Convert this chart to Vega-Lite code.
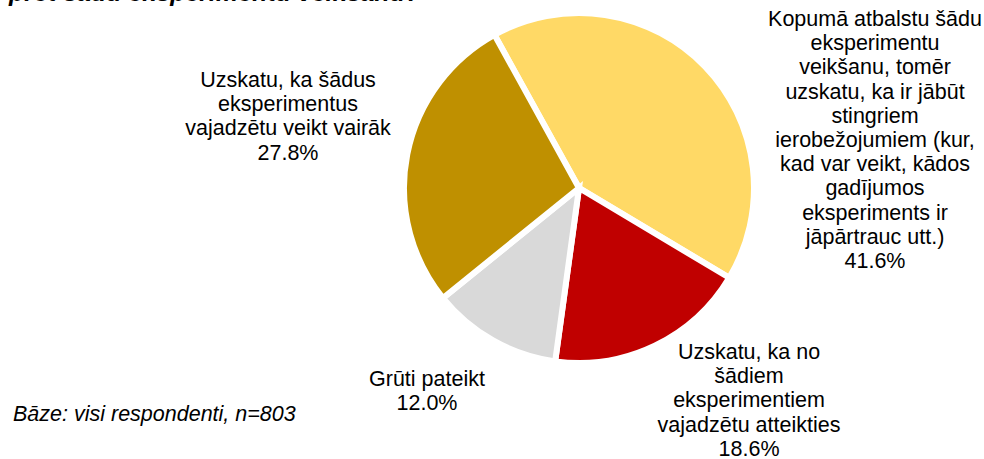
{
  "$schema": "https://vega.github.io/schema/vega-lite/v6.json",
  "padding": {"left": 9, "top": -19, "right": 1, "bottom": -3},
  "config": {"view": {"stroke": null}, "font": "Liberation Sans"},
  "title": {
    "text": "pret šādu eksperimentu veikšanu?",
    "anchor": "start",
    "orient": "top",
    "offset": -6,
    "dx": -4,
    "fontSize": 25,
    "fontStyle": "italic",
    "fontWeight": "bold",
    "font": "Liberation Sans",
    "color": "#000000"
  },
  "vconcat": [
    {
      "width": 810,
      "height": 376,
      "title": {
        "text": "Bāze: visi respondenti, n=803",
        "orient": "bottom",
        "anchor": "start",
        "baseline": "top",
        "offset": -56,
        "dx": -161,
        "fontSize": 21.5,
        "fontStyle": "italic",
        "fontWeight": "normal",
        "font": "Liberation Sans",
        "color": "#000000"
      },
      "data": {
        "values": [
          {"cat": "Kopumā atbalstu šādu eksperimentu veikšanu, tomēr uzskatu, ka ir jābūt stingriem ierobežojumiem", "label": ["Kopumā atbalstu šādu", "eksperimentu", "veikšanu, tomēr", "uzskatu, ka ir jābūt", "stingriem", "ierobežojumiem (kur,", "kad var veikt, kādos", "gadījumos", "eksperiments ir", "jāpārtrauc utt.)", "41.6%"], "value": 41.6, "order": 1},
          {"cat": "Uzskatu, ka no šādiem eksperimentiem vajadzētu atteikties", "label": ["Uzskatu, ka no", "šādiem", "eksperimentiem", "vajadzētu atteikties", "18.6%"], "value": 18.6, "order": 2},
          {"cat": "Grūti pateikt", "label": ["Grūti pateikt", "12.0%"], "value": 12.0, "order": 3},
          {"cat": "Uzskatu, ka šādus eksperimentus vajadzētu veikt vairāk", "label": ["Uzskatu, ka šādus", "eksperimentus", "vajadzētu veikt vairāk", "27.8%"], "value": 27.8, "order": 4}
        ]
      },
      "transform": [
        {"stack": "value", "groupby": [], "sort": [{"field": "order", "order": "ascending"}], "as": ["v0", "v1"]}
      ],
      "encoding": {
        "theta": {"field": "v0", "type": "quantitative", "stack": null, "scale": {"domain": [0, 100], "range": [-0.5044, 5.7788]}}
      },
      "layer": [
        {
          "mark": {"type": "arc", "radius": 175, "stroke": "#ffffff", "strokeWidth": 6},
          "encoding": {
            "theta2": {"field": "v1"},
            "color": {
              "field": "cat",
              "type": "nominal",
              "legend": null,
              "scale": {
                "domain": [
                  "Kopumā atbalstu šādu eksperimentu veikšanu, tomēr uzskatu, ka ir jābūt stingriem ierobežojumiem",
                  "Uzskatu, ka no šādiem eksperimentiem vajadzētu atteikties",
                  "Grūti pateikt",
                  "Uzskatu, ka šādus eksperimentus vajadzētu veikt vairāk"
                ],
                "range": ["#FFD966", "#C00000", "#D9D9D9", "#BF9000"]
              }
            }
          }
        },
        {
          "transform": [{"filter": "datum.order === 1"}],
          "mark": {"type": "text", "radius": 345.9, "thetaOffset": 1.5314, "align": "center", "baseline": "top", "fontSize": 21.5, "lineHeight": 24.2, "font": "Liberation Sans", "color": "#000000"},
          "encoding": {"text": {"field": "label"}}
        },
        {
          "transform": [{"filter": "datum.order === 2"}],
          "mark": {"type": "text", "radius": 229.4, "thetaOffset": 0.1974, "align": "center", "baseline": "top", "fontSize": 21.5, "lineHeight": 24.2, "font": "Liberation Sans", "color": "#000000"},
          "encoding": {"text": {"field": "label"}}
        },
        {
          "transform": [{"filter": "datum.order === 3"}],
          "mark": {"type": "text", "radius": 236.4, "thetaOffset": 0.562, "align": "center", "baseline": "top", "fontSize": 21.5, "lineHeight": 24.2, "font": "Liberation Sans", "color": "#000000"},
          "encoding": {"text": {"field": "label"}}
        },
        {
          "transform": [{"filter": "datum.order === 4"}],
          "mark": {"type": "text", "radius": 314.0, "thetaOffset": 1.0655, "align": "center", "baseline": "top", "fontSize": 21.5, "lineHeight": 24.2, "font": "Liberation Sans", "color": "#000000"},
          "encoding": {"text": {"field": "label"}}
        }
      ]
    }
  ]
}
